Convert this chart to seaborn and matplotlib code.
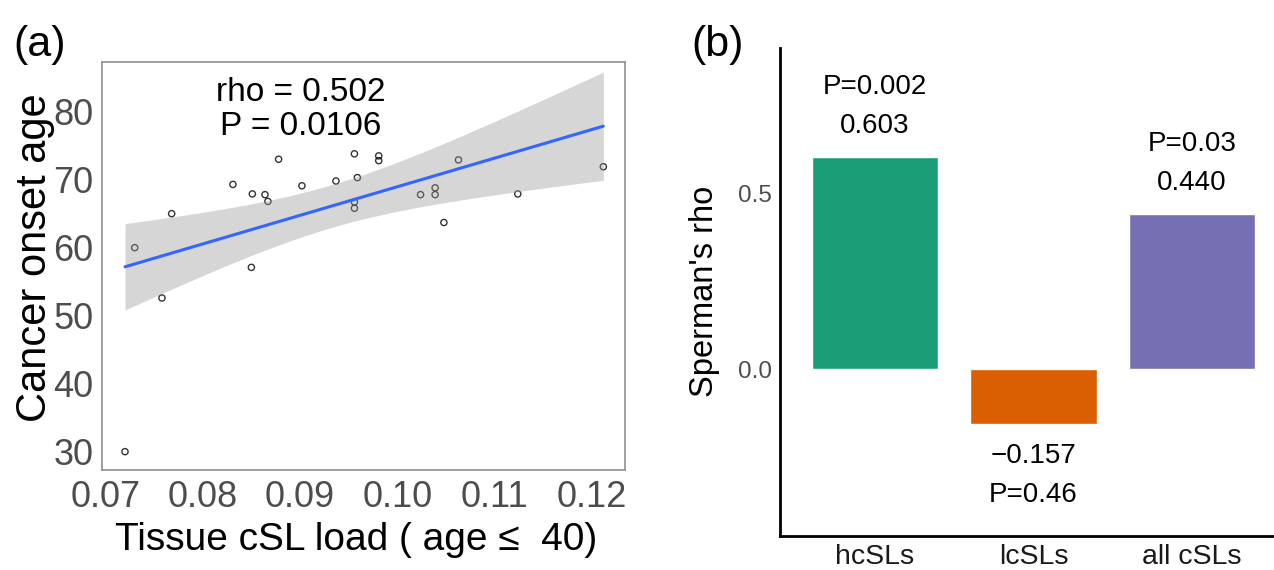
import numpy as np
import pandas as pd
import matplotlib
matplotlib.use('Agg')
import matplotlib.pyplot as plt
import seaborn as sns

# panel (a): tissue cSL load vs cancer onset age
csl_load = [0.0720, 0.0730, 0.0758, 0.0768, 0.0831, 0.0851, 0.0850, 0.0864, 0.0867,
            0.0878, 0.0902, 0.0937, 0.0956, 0.0959, 0.0956, 0.0956, 0.0981, 0.0981,
            0.1024, 0.1039, 0.1039, 0.1048, 0.1063, 0.1124, 0.1212]
onset_age = [30.0, 60.0, 52.6, 65.0, 69.3, 67.9, 57.1, 67.8, 66.8,
             73.0, 69.1, 69.8, 73.8, 70.3, 66.7, 65.8, 73.5, 72.8,
             67.8, 68.8, 67.8, 63.7, 72.9, 67.9, 71.9]
x_ticks = [0.07, 0.08, 0.09, 0.10, 0.11, 0.12]
y_ticks = [30, 40, 50, 60, 70, 80]
rho_text = 'rho = 0.502'
p_text = 'P = 0.0106'

# panel (b): spearman rho per SL class
sl_class = ['hcSLs', 'lcSLs', 'all cSLs']
rho_vals = [0.603, -0.157, 0.440]
p_vals = ['P=0.002', 'P=0.46', 'P=0.03']
bar_colors = ['#1B9E77', '#D95F02', '#7570B3']

sns.set_style('white')
plt.rcParams['font.family'] = ['Liberation Sans', 'DejaVu Sans']
plt.rcParams['text.color'] = 'black'
plt.rcParams['axes.labelcolor'] = 'black'

fig = plt.figure(figsize=(12.74, 5.7), dpi=100)

# ---- (a) ----
ax1 = fig.add_axes([0.0798, 0.1754, 0.411, 0.7158])
df = pd.DataFrame({'load': csl_load, 'age': onset_age})
sns.regplot(data=df, x='load', y='age', ax=ax1, ci=None,
            scatter_kws=dict(s=20, facecolors='none', edgecolors='black', linewidths=1.0),
            line_kws=dict(color='#3366FF', lw=2.2, zorder=3))

# t-based 95% band like geom_smooth(method = "lm")
x = np.asarray(csl_load)
y = np.asarray(onset_age)
n = len(x)
slope, icpt = np.polyfit(x, y, 1)
resid = y - (slope * x + icpt)
s = np.sqrt(np.sum(resid ** 2) / (n - 2))
grid = np.linspace(x.min(), x.max(), 100)
se = s * np.sqrt(1 / n + (grid - x.mean()) ** 2 / np.sum((x - x.mean()) ** 2))
t_crit = 2.0687  # t(0.975, df=23)
fit = slope * grid + icpt
ax1.fill_between(grid, fit - t_crit * se, fit + t_crit * se,
                 facecolor='#999999', alpha=0.4, linewidth=0, zorder=2)

ax1.set_xlim(0.0696, 0.12346)
ax1.set_ylim(27.3, 87.3)
ax1.set_xticks(x_ticks)
ax1.set_xticklabels([f'{t:.2f}' for t in x_ticks])
ax1.set_yticks(y_ticks)
ax1.tick_params(axis='both', labelsize=26, colors='#4D4D4D', length=4, width=1, pad=2)
ax1.tick_params(axis='x', pad=3)
for sp in ax1.spines.values():
    sp.set_color('#8F8F8F')
    sp.set_linewidth(1.2)

ax1.set_xlabel('Tissue cSL load ( age \u2264  40)', fontsize=28, va='center')
ax1.xaxis.set_label_coords(0.486, -0.172)
ax1.set_ylabel('Cancer onset age', fontsize=30, va='center')
ax1.yaxis.set_label_coords(-0.128, 0.52)

ax1.text(0.0901, 82.75, rho_text, fontsize=24, ha='center', va='center')
ax1.text(0.0901, 77.75, p_text, fontsize=24, ha='center', va='center')

fig.text(40 / 1274, 1 - 45 / 570, '(a)', fontsize=31, ha='center', va='center')

# ---- (b) ----
ax2 = fig.add_axes([0.6122, 0.0602, 0.398, 0.8556])
sns.barplot(x=sl_class, y=rho_vals, hue=sl_class, palette=bar_colors, legend=False,
            width=0.8, saturation=1, ax=ax2)
ax2.set_xlim(-0.6, 2.6)
ax2.set_ylim(-0.473, 0.913)
ax2.set_yticks([0.0, 0.5])
ax2.set_yticklabels(['0.0', '0.5'])
ax2.tick_params(axis='y', labelsize=17.5, colors='#4D4D4D', length=4, width=1, pad=2)
ax2.tick_params(axis='x', labelsize=20.5, labelcolor='#1A1A1A', length=0, pad=6)
sns.despine(ax=ax2)
for side in ['left', 'bottom']:
    ax2.spines[side].set_color('black')
    ax2.spines[side].set_linewidth(2.0)
ax2.set_ylabel("Sperman's rho", fontsize=23.5, va='center')
ax2.yaxis.set_label_coords(-0.148, 0.5)
ax2.set_xlabel('')

for i, (r, p) in enumerate(zip(rho_vals, p_vals)):
    sign = 1 if r >= 0 else -1
    ax2.annotate(f'{r:.3f}'.replace('-', '\u2212'), xy=(i, r), xytext=(0, sign * 22.5),
                 textcoords='offset points', ha='center', va='center', fontsize=20)
    ax2.annotate(p, xy=(i, r), xytext=(0, sign * 50.5),
                 textcoords='offset points', ha='center', va='center', fontsize=20)

fig.text(718 / 1274, 1 - 45 / 570, '(b)', fontsize=31, ha='center', va='center')

fig.savefig('out.png', dpi=100)
